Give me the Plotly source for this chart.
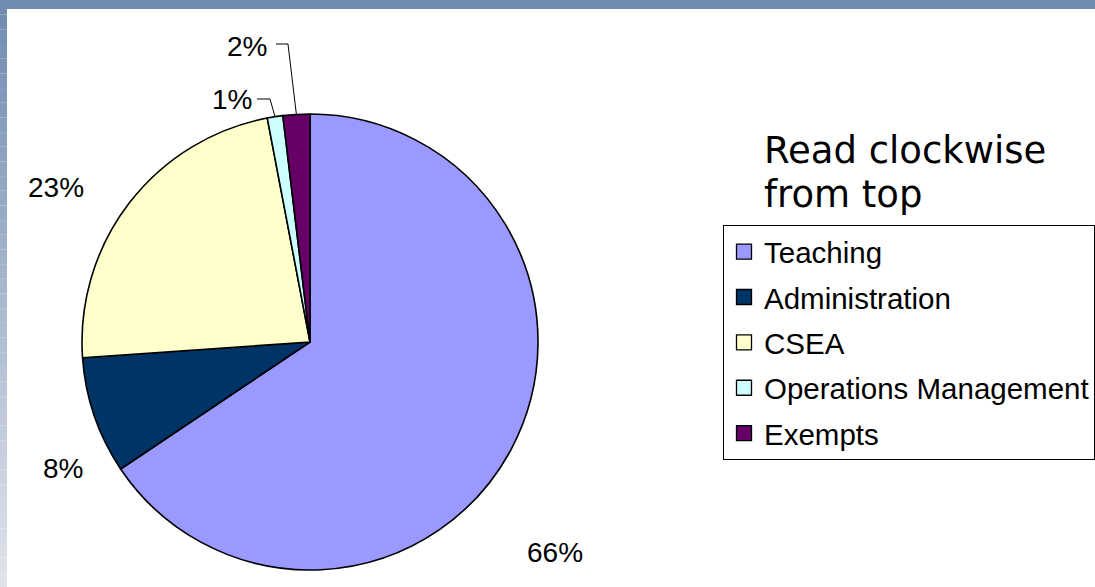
import math
import plotly.graph_objects as go

# ---- data ----
categories = ["Teaching", "Administration", "CSEA", "Operations Management", "Exempts"]
values = [65.6, 8.3, 23.1, 1.1, 1.9]
colors = ["#9999FF", "#003366", "#FFFFCC", "#CCFFFF", "#660066"]
title_lines = ["Read clockwise", "from top"]

W, H = 1095, 587

def px(x):
    return x / W

def py(y):
    return 1 - y / H

fig = go.Figure()

# pie (centre ~ (310,342), radius 228 px)
cx, cy, R = 310, 342, 228
fig.add_trace(go.Pie(
    labels=categories, values=values, sort=False, direction="clockwise", rotation=0,
    marker=dict(colors=colors, line=dict(color="black", width=1.6)),
    textinfo="none", hoverinfo="label+percent", showlegend=False,
    domain=dict(x=[px(cx - R), px(cx + R)], y=[py(cy + R), py(cy - R)]),
))

# legend entries via dummy traces
for cat, col in zip(categories, colors):
    fig.add_trace(go.Scatter(
        x=[None], y=[None], mode="markers", name=cat, legendgroup=cat,
        marker=dict(symbol="square", size=15, color=col, line=dict(color="black", width=1.3)),
    ))

# percent labels (positions are layout)
total = sum(values)
pct_text = [f"{round(v / total * 100)}%" for v in values]
label_pos = {  # centre of each label, px
    "Teaching": (555, 552),
    "Administration": (63, 468),
    "CSEA": (56, 187),
    "Operations Management": (232, 99),
    "Exempts": (247, 47),
}
font_lbl = dict(family="Liberation Sans, Arial", size=28, color="black")
annotations = []
for cat, t in zip(categories, pct_text):
    x, y = label_pos[cat]
    annotations.append(dict(x=px(x), y=py(y), xref="paper", yref="paper", text=t,
                            showarrow=False, font=font_lbl, xanchor="center", yanchor="middle"))

# title above legend
for i, line in enumerate(title_lines):
    annotations.append(dict(x=px(762), y=py(150 + 45 * i), xref="paper", yref="paper", text=line,
                            showarrow=False, xanchor="left", yanchor="middle",
                            font=dict(family="DejaVu Sans, Verdana", size=37, color="black")))

# background bands
shapes = []
top_c = (111, 139, 176)
bot_c = (224, 228, 236)
n = 40
for i in range(n):
    f = (i + 0.5) / n
    c = tuple(int(round(a + (b - a) * f)) for a, b in zip(top_c, bot_c))
    y0 = H * i / n
    y1 = H * (i + 1) / n
    shapes.append(dict(type="rect", xref="paper", yref="paper", x0=0, x1=px(7),
                       y0=py(y1), y1=py(y0), line=dict(width=0),
                       fillcolor=f"rgb{c}", layer="below"))
shapes.append(dict(type="rect", xref="paper", yref="paper", x0=0, x1=1, y0=py(9), y1=1,
                   line=dict(width=0), fillcolor="rgb(111,139,176)", layer="below"))

# leader lines for the two small slices, endpoint on the pie edge at slice mid-angle
cum = 0
mids = {}
for cat, v in zip(categories, values):
    mids[cat] = (cum + v / 2) / total * 360
    cum += v
leaders = {
    "Operations Management": [(257, 99), (270, 99)],
    "Exempts": [(276, 44), (288, 44)],
}
for cat, pts in leaders.items():
    a = math.radians(mids[cat])
    ex, ey = cx + R * math.sin(a), cy - R * math.cos(a)
    allp = pts + [(ex, ey)]
    path = "M " + " L ".join(f"{px(x):.5f},{py(y):.5f}" for x, y in allp)
    shapes.append(dict(type="path", xref="paper", yref="paper", path=path,
                       line=dict(color="black", width=1)))

fig.update_layout(
    width=W, height=H, margin=dict(l=0, r=0, t=0, b=0),
    paper_bgcolor="white", plot_bgcolor="white",
    xaxis=dict(visible=False), yaxis=dict(visible=False),
    legend=dict(x=px(723), y=py(225), xanchor="left", yanchor="top",
                bordercolor="black", borderwidth=1, bgcolor="white",
                font=dict(family="Liberation Sans, Arial", size=29.5, color="black"),
                tracegroupgap=4, itemsizing="trace"),
    annotations=annotations, shapes=shapes,
)

fig.write_html("out.html", config={"displayModeBar": False},
               post_script="document.body.style.margin='0';document.body.style.overflow='hidden';")
